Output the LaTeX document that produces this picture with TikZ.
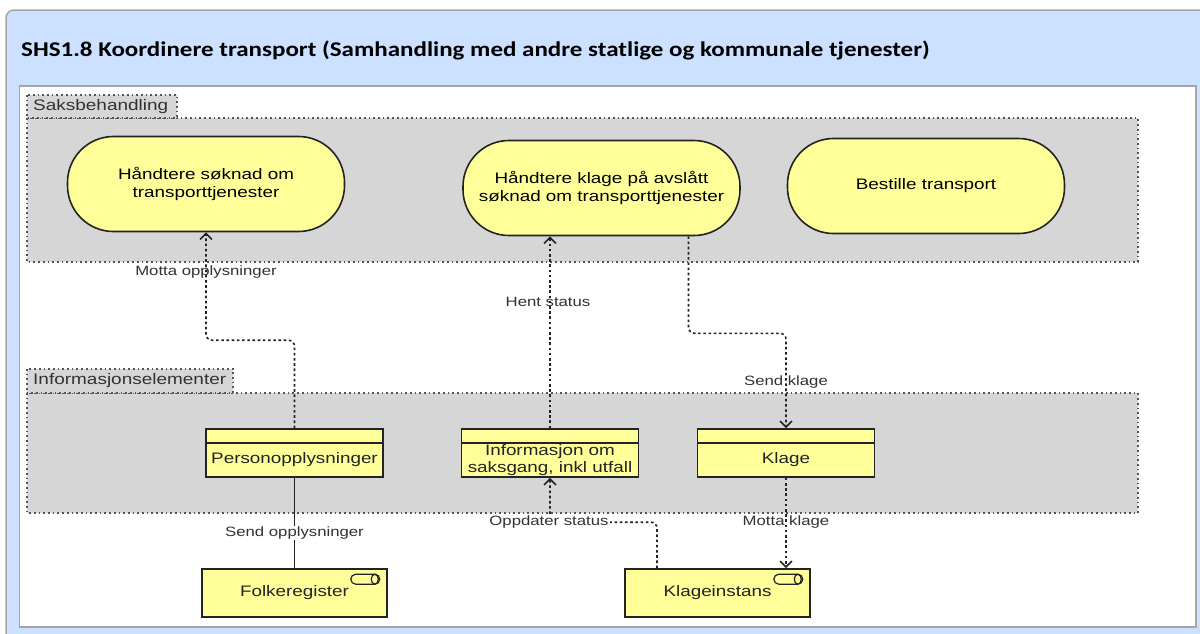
\documentclass[tikz,border=0pt]{standalone}
\usepackage{fontspec}
\setmainfont{Liberation Sans}
\newfontfamily\titlefont[FakeStretch=1.19]{Carlito}
\newfontfamily\labfont[FakeStretch=1.24]{Liberation Sans}
\usetikzlibrary{arrows.meta,calc}

\definecolor{panelblue}{RGB}{204,224,255}
\definecolor{panelline}{RGB}{165,165,165}
\definecolor{groupfill}{RGB}{214,214,214}
\definecolor{groupline}{RGB}{85,85,85}
\definecolor{elemfill}{RGB}{255,255,153}
\definecolor{ink}{RGB}{35,35,35}
\definecolor{labink}{RGB}{50,50,50}

\tikzset{
  groupbox/.style={fill=groupfill, draw=groupline, line width=1.7pt,
    dash pattern=on 1.7pt off 3pt},
  grouplabel/.style={anchor=west, inner sep=0pt, text=labink,
    font=\labfont\fontsize{15.3}{18}\selectfont},
  process/.style={draw=ink, fill=elemfill, line width=1.6pt, rounded corners=46pt,
    minimum width=277pt, minimum height=95pt, align=center, inner sep=0pt,
    font=\labfont\fontsize{15.2}{18}\selectfont},
  dataobj/.style={draw=ink, fill=elemfill, line width=1.6pt,
    minimum width=177pt, minimum height=48pt, inner sep=0pt,
    path picture={\draw[ink, line width=1.6pt]
      ([yshift=-14pt]path picture bounding box.north west) --
      ([yshift=-14pt]path picture bounding box.north east);}},
  dtext/.style={align=center, inner sep=0pt, text=ink,
    font=\labfont\fontsize{15.2}{17}\selectfont},
  component/.style={draw=ink, fill=elemfill, line width=1.6pt,
    minimum width=185pt, minimum height=48pt, inner sep=0pt, text=ink,
    font=\labfont\fontsize{15.2}{18}\selectfont},
  conn/.style={draw=ink, line width=1.6pt, dash pattern=on 2.6pt off 2.6pt,
    rounded corners=6pt},
  opentip/.style={-{Straight Barb[length=6pt,width=12pt]}},
  clabel/.style={inner sep=1pt, text=labink,
    font=\labfont\fontsize{13.5}{16}\selectfont},
}

% application component symbol in the upper right corner of a node
\newcommand\complogo[1]{%
  \draw[ink, line width=1.2pt, rounded corners=5pt]
    ([xshift=-37pt,yshift=-6pt]#1.north east) rectangle
    ([xshift=-8pt,yshift=-16pt]#1.north east);
  \draw[ink, line width=1.2pt]
    ([xshift=-13pt,yshift=-11pt]#1.north east) ellipse [x radius=3.5pt, y radius=5pt];
}

\begin{document}
\begin{tikzpicture}[x=1pt,y=-1pt]
\useasboundingbox (0,0) rectangle (1200,633);
\fill[white] (0,0) rectangle (1200,633);

% view frame with title bar
\filldraw[fill=panelblue, draw=panelline, line width=1.5pt, rounded corners=8pt]
  (6,10) rectangle (1215,650);
\node[anchor=west, inner sep=0pt, text=black,
  font=\titlefont\bfseries\fontsize{21}{25}\selectfont] (title) at (21,50)
  {SHS1.8 Koordinere transport (Samhandling med andre statlige og kommunale tjenester)};
\filldraw[fill=white, draw=panelline, line width=1.5pt] (19.5,86) rectangle (1196,627);

% grouping: Saksbehandling
\path[groupbox] (27,118) rectangle (1138,262);
\path[groupbox] (27,95) rectangle (177,118);
\node[grouplabel] (g1) at (33,106.5) {Saksbehandling};

% grouping: Informasjonselementer
\path[groupbox] (27,393) rectangle (1138,513);
\path[groupbox] (27,369) rectangle (233,393);
\node[grouplabel] (g2) at (33,381) {Informasjonselementer};

% business processes
\node[process] (p1) at (206,184) {Håndtere søknad om\\transporttjenester};
\node[process] (p2) at (601.5,188) {Håndtere klage på avslått\\søknad om transporttjenester};
\node[process] (p3) at (926,186) {Bestille transport};

% business objects
\node[dataobj] (po) at (294.5,453) {};
\node[dtext] (potext) at ([yshift=-6.5pt]po.center) {Personopplysninger};
\node[dataobj] (info) at (550,453) {};
\node[dtext] (infotext) at ([yshift=-7.5pt]info.center) {Informasjon om\\saksgang, inkl utfall};
\node[dataobj] (klage) at (786,453) {};
\node[dtext] (klagetext) at ([yshift=-6.5pt]klage.center) {Klage};

% application components
\node[component] (fk) at (294.5,593) {Folkeregister};
\complogo{fk}
\node[component] (ki) at (717.5,593) {Klageinstans};
\complogo{ki}

% relations
\draw[conn, opentip] (po.north) -- ++(0,-88) -| (p1.south);
\node[clabel] (l1) at (206,272) {Motta opplysninger};

\draw[conn, opentip] (info.north) -- (info.north |- p2.south);
\node[clabel] (l2) at (548,302) {Hent status};

\draw[conn, opentip] ($(p2.south)+(87,0)$) -- ++(0,97) -| (klage.north);
\node[clabel] (l3) at (786,382) {Send klage};

\draw[ink, line width=1.6pt] (po.south) -- (fk.north);
\node[clabel, fill=white] (l4) at (294.5,533) {Send opplysninger};

\draw[conn, opentip] ($(ki.north)+(-60.5,0)$) -- ++(0,-46) -| (info.south);
\node[clabel, fill=white] (l5) at (549,522) {Oppdater status};

\draw[conn, opentip] (klage.south) -- (klage.south |- ki.north);
\node[clabel] (l6) at (786,522) {Motta klage};
\end{tikzpicture}
\end{document}
